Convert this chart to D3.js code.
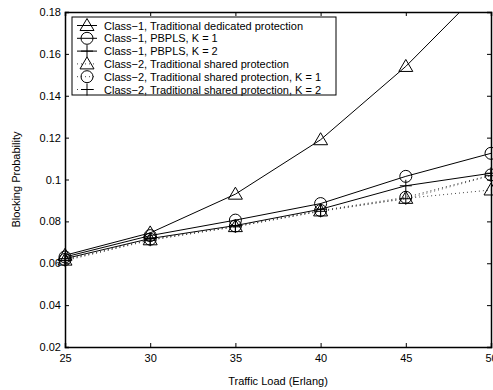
<!DOCTYPE html>
<html>
<head>
<meta charset="utf-8">
<script src="https://cdn.jsdelivr.net/npm/d3@7"></script>
<style>
  body { margin: 0; background: #fff; }
  svg text { font-family: "Liberation Sans", Arial, sans-serif; }
</style>
</head>
<body>
<div id="chart"></div>
<script>
// traffic load values (x)
var loads = [25, 30, 35, 40, 45, 50];
var xTicks = [25, 30, 35, 40, 45, 50];
var yTicks = [0.02, 0.04, 0.06, 0.08, 0.1, 0.12, 0.14, 0.16, 0.18];

// blocking probability per series
var c1Dedicated = [0.0638, 0.0745, 0.093, 0.119, 0.154, 0.195];
var c1K1 = [0.063, 0.0732, 0.0806, 0.0885, 0.1015, 0.1125];
var c1K2 = [0.0622, 0.0718, 0.0780, 0.0858, 0.0970, 0.1030];
var c2Shared = [0.0615, 0.0712, 0.0775, 0.0850, 0.0910, 0.0950];
var c2K1 = [0.0618, 0.0715, 0.0778, 0.0852, 0.0915, 0.1022];
var c2K2 = [0.0612, 0.0710, 0.0774, 0.0848, 0.0908, 0.1018];

var seriesNames = [
  "Class\u22121, Traditional dedicated protection",
  "Class\u22121, PBPLS, K = 1",
  "Class\u22121, PBPLS, K = 2",
  "Class\u22122, Traditional shared protection",
  "Class\u22122, Traditional shared protection, K = 1",
  "Class\u22122, Traditional shared protection, K = 2"
];
var seriesValues = [c1Dedicated, c1K1, c1K2, c2Shared, c2K1, c2K2];
var seriesMarkers = ["triangle", "circle", "plus", "triangle", "circle", "plus"];
var seriesDotted = [false, false, false, true, true, true];

var width = 493, height = 390;
var margin = { top: 12, right: 2, bottom: 43, left: 65 };
var w = width - margin.left - margin.right;
var h = height - margin.top - margin.bottom;

var svg = d3.select("#chart")
  .append("svg")
  .attr("width", width)
  .attr("height", height);

var g = svg.append("g")
  .attr("transform", "translate(" + margin.left + "," + margin.top + ")");

var x = d3.scaleLinear().domain([25, 50]).range([0, w]);
var y = d3.scaleLinear().domain([0.02, 0.18]).range([h, 0]);

g.append("clipPath").attr("id", "plotclip")
  .append("rect").attr("width", w).attr("height", h);

// axes, ticks inward on all four sides
var fmt = function (d) { return d3.format("")(+d.toFixed(2)); };
g.append("g")
  .attr("transform", "translate(0," + h + ")")
  .call(d3.axisBottom(x).tickValues(xTicks).tickSize(-4).tickPadding(7));
g.append("g")
  .call(d3.axisTop(x).tickValues(xTicks).tickSize(-4).tickFormat(""));
g.append("g")
  .call(d3.axisLeft(y).tickValues(yTicks).tickSize(-4).tickPadding(4).tickFormat(fmt));
g.append("g")
  .attr("transform", "translate(" + w + ",0)")
  .call(d3.axisRight(y).tickValues(yTicks).tickSize(-4).tickFormat(""));

g.selectAll(".domain").attr("stroke", "#000").attr("stroke-width", 1.5);
g.selectAll(".tick line").attr("stroke", "#000");
g.selectAll(".tick text").attr("font-size", 11).attr("fill", "#000")
  .attr("font-family", "Liberation Sans, Arial, sans-serif");

function drawMarker(sel, type) {
  if (type === "triangle") {
    sel.append("path").attr("d", "M0,-7L7,5L-7,5Z")
      .attr("fill", "none").attr("stroke", "#000").attr("stroke-width", 1);
  } else if (type === "circle") {
    sel.append("circle").attr("r", 6)
      .attr("fill", "none").attr("stroke", "#000").attr("stroke-width", 1);
  } else {
    sel.append("path").attr("d", "M-6,0H6M0,-6V6")
      .attr("fill", "none").attr("stroke", "#000").attr("stroke-width", 1);
  }
}

var line = d3.line()
  .x(function (d, i) { return x(loads[i]); })
  .y(function (d) { return y(d); });

var plot = g.append("g").attr("clip-path", "url(#plotclip)");

seriesValues.forEach(function (vals, s) {
  plot.append("path")
    .attr("d", line(vals))
    .attr("fill", "none")
    .attr("stroke", seriesDotted[s] ? "#444" : "#000")
    .attr("stroke-width", 1)
    .attr("stroke-dasharray", seriesDotted[s] ? "1,3" : null);
});

seriesValues.forEach(function (vals, s) {
  vals.forEach(function (v, i) {
    if (v > 0.18) return;
    var m = g.append("g")
      .attr("transform", "translate(" + x(loads[i]) + "," + y(v) + ")");
    drawMarker(m, seriesMarkers[s]);
  });
});

// legend
var leg = g.append("g").attr("transform", "translate(7,5)");
leg.append("rect")
  .attr("width", 264).attr("height", 78)
  .attr("fill", "#fff").attr("stroke", "#000").attr("stroke-width", 1);
seriesNames.forEach(function (name, s) {
  var ly = 8.5 + s * 12.8;
  leg.append("line")
    .attr("x1", 5).attr("x2", 25).attr("y1", ly).attr("y2", ly)
    .attr("stroke", seriesDotted[s] ? "#444" : "#000")
    .attr("stroke-dasharray", seriesDotted[s] ? "1,3" : null);
  var m = leg.append("g").attr("transform", "translate(15," + ly + ")");
  drawMarker(m, seriesMarkers[s]);
  leg.append("text")
    .attr("x", 32).attr("y", ly + 4)
    .attr("font-size", 11)
    .text(name);
});

// axis titles
svg.append("text")
  .attr("x", margin.left + w / 2).attr("y", 385)
  .attr("text-anchor", "middle").attr("font-size", 11)
  .text("Traffic Load (Erlang)");
svg.append("text")
  .attr("transform", "translate(20," + (margin.top + h / 2) + ") rotate(-90)")
  .attr("text-anchor", "middle").attr("font-size", 11)
  .text("Blocking Probability");
</script>
</body>
</html>
